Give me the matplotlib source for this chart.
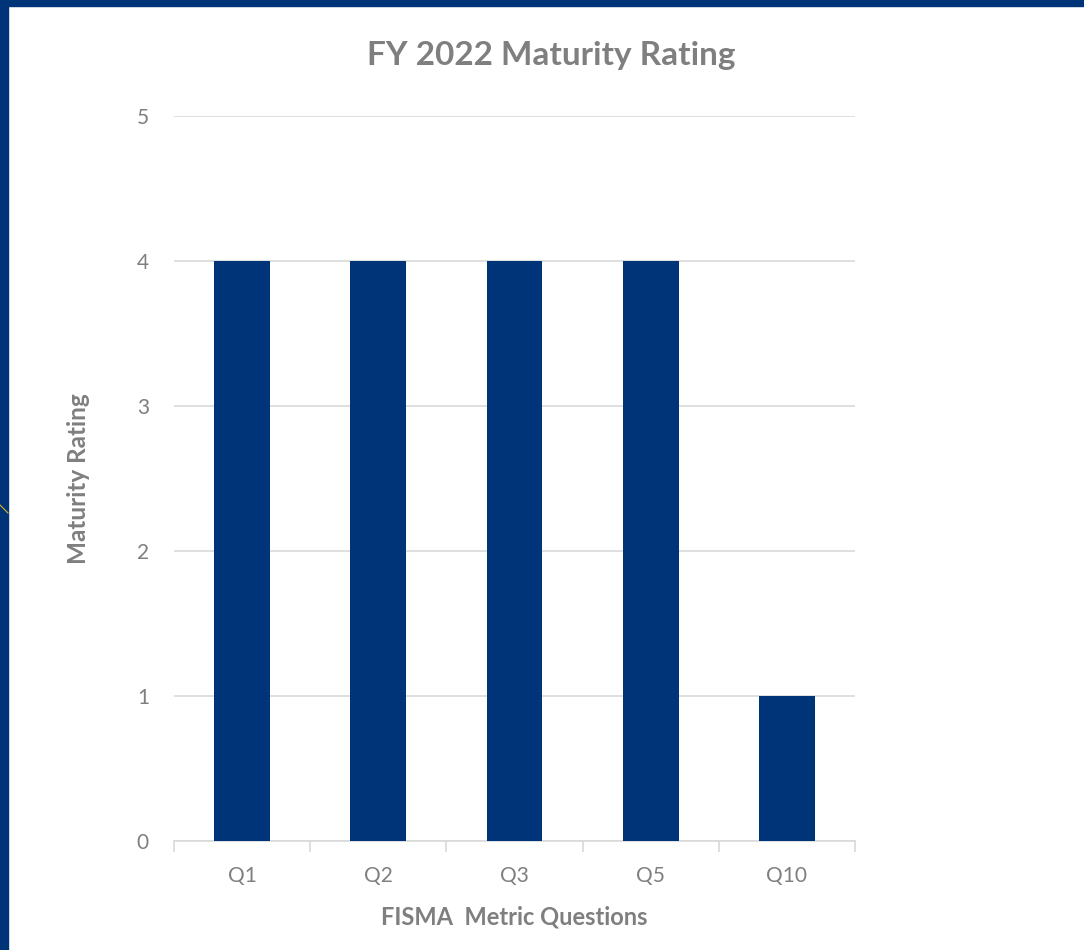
import matplotlib.pyplot as plt
from matplotlib.patches import Rectangle
from matplotlib.lines import Line2D
import numpy as np

categories = ['Q1', 'Q2', 'Q3', 'Q5', 'Q10']
ratings = [4, 4, 4, 4, 1]
yticks = [0, 1, 2, 3, 4, 5]

navy = '#003478'
grey = '#7f7f7f'
grid = '#d9d9d9'

plt.rcParams['font.family'] = ['Lato', 'DejaVu Sans']

fig = plt.figure(figsize=(10.84, 9.5), dpi=100)
ax = fig.add_axes([0.1605, 0.1147, 0.6282, 0.7632])

x = np.arange(len(categories))
ax.bar(x, ratings, width=0.41, color=navy, zorder=3)

ax.set_xlim(-0.5, len(categories) - 0.5)
ax.set_ylim(0, 5)
ax.set_yticks(yticks)
ax.set_xticks(x)
ax.set_xticklabels(categories)
ax.set_xticks(np.arange(len(categories) + 1) - 0.5, minor=True)

ax.grid(axis='y', color=grid, linewidth=1.2, zorder=0)
for s in ['top', 'right', 'left']:
    ax.spines[s].set_visible(False)
ax.spines['bottom'].set_color(grid)
ax.spines['bottom'].set_linewidth(1.2)

ax.tick_params(axis='y', length=0, pad=18, labelsize=15, labelcolor=grey)
ax.tick_params(axis='x', which='major', length=0, pad=18, labelsize=15, labelcolor=grey)
ax.tick_params(axis='x', which='minor', length=8, width=1.2, color=grid)

# title is centred on the whole chart area, not the plot area
fig.text(0.509, 0.942, 'FY 2022 Maturity Rating', fontsize=24, fontweight='bold',
         color=grey, ha='center', va='center')
ax.set_xlabel('FISMA  Metric Questions', fontsize=17, fontweight='bold', color=grey, labelpad=14)
ax.set_ylabel('Maturity Rating', fontsize=17.5, fontweight='bold', color=grey, labelpad=34)

# slide frame
fig.patches.append(Rectangle((0, 1 - 6 / 950), 1, 6 / 950, transform=fig.transFigure,
                             color=navy, zorder=10))
fig.patches.append(Rectangle((0, 0), 8 / 1084, 1, transform=fig.transFigure,
                             color=navy, zorder=10))
fig.lines.append(Line2D([0, 8 / 1084], [1 - 505 / 950, 1 - 513 / 950], transform=fig.transFigure,
                        color='#e0b020', linewidth=0.8, zorder=11))

fig.savefig('out.png', dpi=100)
